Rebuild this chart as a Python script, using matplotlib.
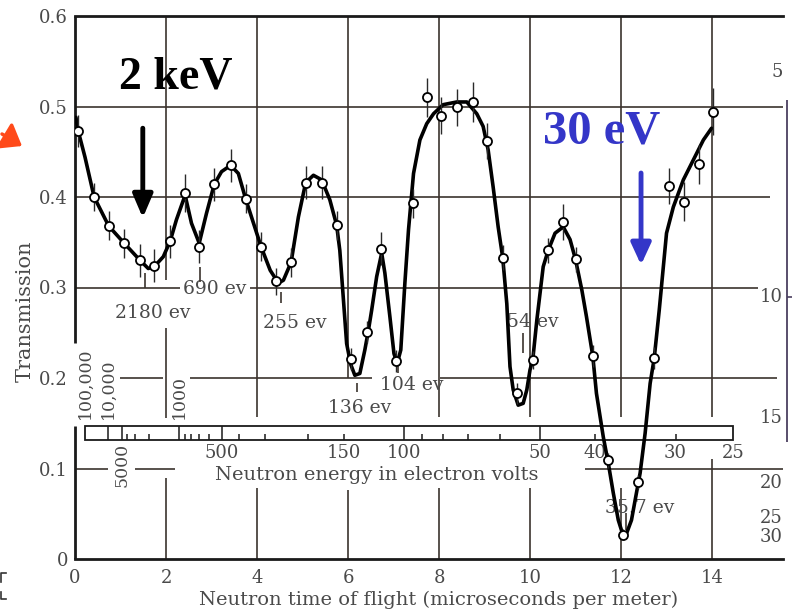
import numpy as np
import matplotlib.pyplot as plt
from matplotlib.patches import Rectangle
from matplotlib.lines import Line2D

plt.rcParams['font.family'] = 'DejaVu Serif'

# measured transmission (time of flight in microseconds per meter)
pt_t = [0.07, 0.42, 0.74, 1.08, 1.43, 1.74, 2.09, 2.42, 2.73, 3.06, 3.42, 3.75,
        4.09, 4.41, 4.75, 5.07, 5.42, 5.75, 6.06, 6.41, 6.73, 7.05, 7.42, 7.73,
        8.05, 8.40, 8.74, 9.06, 9.40, 9.72, 10.06, 10.40, 10.73, 11.00, 11.38,
        11.72, 12.04, 12.38, 12.73, 13.06, 13.39, 13.72, 14.03]
pt_T = [0.473, 0.400, 0.368, 0.349, 0.330, 0.324, 0.351, 0.404, 0.345, 0.414,
        0.435, 0.398, 0.345, 0.307, 0.328, 0.416, 0.416, 0.369, 0.221, 0.251,
        0.343, 0.219, 0.393, 0.510, 0.490, 0.499, 0.505, 0.462, 0.333, 0.183,
        0.220, 0.341, 0.372, 0.331, 0.224, 0.109, 0.027, 0.085, 0.222, 0.412,
        0.395, 0.436, 0.494]
pt_err = [0.018, 0.015, 0.016, 0.016, 0.018, 0.018, 0.018, 0.021, 0.018, 0.018,
          0.018, 0.016, 0.016, 0.015, 0.016, 0.018, 0.018, 0.016, 0.012, 0.012,
          0.018, 0.012, 0.016, 0.022, 0.020, 0.020, 0.022, 0.020, 0.014, 0.012,
          0.010, 0.014, 0.020, 0.014, 0.012, 0.008, 0.006, 0.008, 0.012, 0.020,
          0.022, 0.022, 0.026]

# fitted resonance curve
curve_t = [0.02, 0.07, 0.22, 0.42, 0.74, 1.08, 1.43, 1.61, 1.74, 1.94, 2.09, 2.23,
           2.42, 2.56, 2.73, 2.89, 3.06, 3.22, 3.42, 3.59, 3.75, 4.09, 4.29, 4.47,
           4.58, 4.75, 4.91, 5.07, 5.24, 5.42, 5.60, 5.75, 5.82, 5.90, 5.97, 6.06,
           6.15, 6.26, 6.37, 6.45, 6.52, 6.63, 6.74, 6.81, 6.92, 7.01, 7.08, 7.16,
           7.25, 7.33, 7.44, 7.58, 7.73, 7.88, 8.09, 8.39, 8.61, 8.83, 8.97, 9.08,
           9.19, 9.30, 9.40, 9.49, 9.56, 9.63, 9.74, 9.85, 9.93, 10.00, 10.06, 10.15,
           10.29, 10.40, 10.55, 10.73, 10.88, 11.00, 11.14, 11.24, 11.38, 11.46,
           11.61, 11.72, 11.83, 11.94, 12.04, 12.12, 12.23, 12.31, 12.42, 12.53,
           12.64, 12.73, 12.84, 13.00, 13.15, 13.37, 13.59, 13.81, 13.99]
curve_T = [0.488, 0.473, 0.444, 0.400, 0.368, 0.349, 0.330, 0.321, 0.323, 0.334,
           0.351, 0.375, 0.402, 0.371, 0.349, 0.382, 0.414, 0.428, 0.435, 0.426,
           0.398, 0.345, 0.319, 0.305, 0.308, 0.328, 0.378, 0.416, 0.424, 0.419,
           0.397, 0.369, 0.341, 0.286, 0.238, 0.215, 0.203, 0.205, 0.231, 0.253,
           0.275, 0.312, 0.338, 0.316, 0.268, 0.227, 0.216, 0.231, 0.305, 0.364,
           0.426, 0.463, 0.481, 0.492, 0.502, 0.505, 0.505, 0.492, 0.478, 0.452,
           0.411, 0.367, 0.333, 0.282, 0.2125, 0.187, 0.170, 0.172, 0.187, 0.209,
           0.220, 0.264, 0.323, 0.341, 0.360, 0.367, 0.353, 0.331, 0.297, 0.268,
           0.224, 0.183, 0.135, 0.106, 0.073, 0.043, 0.027, 0.028, 0.043, 0.065,
           0.095, 0.139, 0.194, 0.222, 0.275, 0.360, 0.389, 0.419, 0.441, 0.463,
           0.476]

# resonance energies (eV) with label anchor (t, T) and marker span
res_E = [2180, 690, 255, 136, 104, 54, 35.7]
res_text = ['2180 ev', '690 ev', '255 ev', '136 ev', '104 ev', '54 ev', '35.7 ev']
res_lab_t = [0.88, 2.37, 4.13, 5.56, 6.70, 9.49, 11.65]
res_lab_T = [0.272, 0.298, 0.261, 0.167, 0.192, 0.262, 0.056]
res_mark = [(0.300, 0.316), (0.306, 0.323), (0.283, 0.295), (0.185, 0.194),
            (0.205, 0.214), (0.228, 0.250), (0.032, 0.051)]

# energy scale (eV)
E_major = [10000, 5000, 1000, 500, 100, 50]
E_minor = [4000, 3000, 2000, 900, 800, 700, 600, 400, 300, 200, 150,
           90, 80, 70, 60, 40, 30]
E_below = [500, 150, 100, 50, 40, 30, 25]
E_above = [100000, 10000, 1000]
E_above_text = ['100,000', '10,000', '1000']
E_lo, E_hi = 100000, 25

# right-hand cross-section scale
sigma_marks = [5, 10, 15, 20, 25, 30]
atten = 0.124


def tof(E):
    return 72.3 / np.sqrt(E)


grid_c = '#3b332d'
text_c = '#4a4a4a'

fig = plt.figure(figsize=(7.98, 6.12), dpi=100)
ax = fig.add_axes([75 / 798, 53 / 612, 708 / 798, 543 / 612])
ax.set_xlim(0, 15.56)
ax.set_ylim(0, 0.6)
for s in ['left', 'right']:
    ax.spines[s].set_visible(False)
for s in ['top', 'bottom']:
    ax.spines[s].set_linewidth(2.0)
    ax.spines[s].set_color('#1a1a1a')

ax.set_xticks(range(0, 15, 2))
ax.set_yticks([0, 0.1, 0.2, 0.3, 0.4, 0.5, 0.6])
ax.set_yticklabels(['0', '0.1', '0.2', '0.3', '0.4', '0.5', '0.6'])
ax.tick_params(length=0, labelsize=13, labelcolor=text_c)
ax.tick_params(axis='y', pad=5)
ax.tick_params(axis='x', pad=7)

# left spine broken by the rotated energy labels
ax.vlines(0, 0.239, 0.6, color='#1a1a1a', lw=2.0, clip_on=False)
ax.vlines(0, 0, 0.147, color='#1a1a1a', lw=2.0, clip_on=False)

# horizontal grid
hsegs = [(0.5, 0, 15.56), (0.4, 0, 15.27),
         (0.3, 0, 2.31), (0.3, 3.85, 15.0),
         (0.2, 0.99, 1.93), (0.2, 2.53, 6.53), (0.2, 8.02, 15.43),
         (0.1, 0, 0.72), (0.1, 1.32, 2.2), (0.1, 11.21, 15.56)]
for y, x0, x1 in hsegs:
    ax.hlines(y, x0, x1, color=grid_c, lw=1.2, zorder=1, clip_on=False)

# vertical grid
vsegs = [(2, 0.308, 0.6), (2, 0.156, 0.255), (2, 0, 0.089),
         (4, 0.157, 0.6), (4, 0, 0.078),
         (6, 0.2, 0.6), (6, 0, 0.076),
         (8, 0.157, 0.6), (8, 0, 0.078),
         (10, 0.157, 0.6), (10, 0, 0.078),
         (12, 0.157, 0.6), (12, 0, 0.078),
         (14, 0.157, 0.6), (14, 0, 0.11)]
for x, y0, y1 in vsegs:
    ax.vlines(x, y0, y1, color=grid_c, lw=1.2, zorder=1)

# energy scale bar
bar_lo, bar_hi = 0.1315, 0.147
ax.add_patch(Rectangle((tof(E_lo), bar_lo), tof(E_hi) - tof(E_lo), bar_hi - bar_lo,
                       facecolor='white', edgecolor='#1a1a1a', lw=1.3, zorder=3))
ax.vlines([tof(e) for e in E_major], bar_lo, bar_hi, color='#1a1a1a', lw=1.1, zorder=4)
ax.vlines([tof(e) for e in E_minor], bar_lo, bar_lo + 0.0065, color='#1a1a1a', lw=1.1, zorder=4)
for e in E_below:
    ax.text(tof(e), 0.117, str(e), ha='center', va='center', fontsize=13, color=text_c)
for e, txt in zip(E_above, E_above_text):
    ax.text(tof(e), 0.155, txt, rotation=90, ha='center', va='bottom',
            fontsize=12.5, color=text_c)
ax.text(tof(5000), 0.128, '5000', rotation=90, ha='center', va='top',
        fontsize=12.5, color=text_c, bbox=dict(facecolor='white', edgecolor='none', pad=1))
ax.text(6.64, 0.093, 'Neutron energy in electron volts', ha='center', va='center',
        fontsize=14, color=text_c)

# resonance labels
for E, txt, lt, lT, (m0, m1) in zip(res_E, res_text, res_lab_t, res_lab_T, res_mark):
    ax.text(lt, lT, txt, ha='left', va='center', fontsize=13.5, color=text_c, zorder=2)
    ax.vlines(tof(E), m0, m1, color=grid_c, lw=1.2, zorder=2)

# fitted curve and measurements
ax.plot(curve_t, curve_T, color='black', lw=2.6, solid_joinstyle='round',
        solid_capstyle='round', zorder=5)
ax.errorbar(pt_t, pt_T, yerr=pt_err, fmt='o', ms=6.5, mfc='white', mec='black',
            mew=1.3, ecolor='#2a2a2a', elinewidth=1.0, capsize=0, zorder=6)

# right-hand scale
ax.vlines(15.65, 0.129, 0.507, color='#4b4060', lw=1.3, clip_on=False)
ax.hlines(np.exp(-atten * 10), 15.65, 15.75, color='#4b4060', lw=1.2, clip_on=False)
for s in sigma_marks:
    ax.text(15.56, np.exp(-atten * s), str(s), ha='right', va='center',
            fontsize=13, color=text_c, clip_on=False)

# callouts
ax.text(2.22, 0.532, '2 keV', family='Liberation Serif', weight='bold',
        fontsize=33, color='black', ha='center', va='center')
ax.annotate('', xy=(1.49, 0.377), xytext=(1.49, 0.476),
            arrowprops=dict(arrowstyle='-|>,head_length=0.7,head_width=0.3',
                            mutation_scale=20, lw=3.5, color='black',
                            shrinkA=0, shrinkB=0))
ax.text(11.58, 0.472, '30 eV', family='Liberation Serif', weight='bold',
        fontsize=35, color='#3436c8', ha='center', va='center')
ax.annotate('', xy=(12.44, 0.325), xytext=(12.44, 0.4265),
            arrowprops=dict(arrowstyle='-|>,head_length=0.65,head_width=0.3',
                            mutation_scale=20, lw=3.5, color='#3436c8',
                            shrinkA=0, shrinkB=0))
ax.annotate('', xy=(22, 466), xytext=(2, 478), xycoords='figure pixels',
            arrowprops=dict(arrowstyle='-|>,head_length=0.6,head_width=0.45',
                            mutation_scale=20, lw=2.5, color='#ff4a1a',
                            shrinkA=0, shrinkB=0))
fig.add_artist(Line2D([6, 1, 1], [39, 39, 30], transform=None, color='#333', lw=1.2))
fig.add_artist(Line2D([1, 1, 6], [20, 13, 13], transform=None, color='#333', lw=1.2))

fig.text(25 / 798, 1 - 311 / 612, 'Transmission', rotation=90, ha='center',
         va='center', fontsize=15, color=text_c)
fig.text(439 / 798, 1 - 600 / 612, 'Neutron time of flight (microseconds per meter)',
         ha='center', va='center', fontsize=14, color=text_c)

fig.savefig('out.png', dpi=100)
